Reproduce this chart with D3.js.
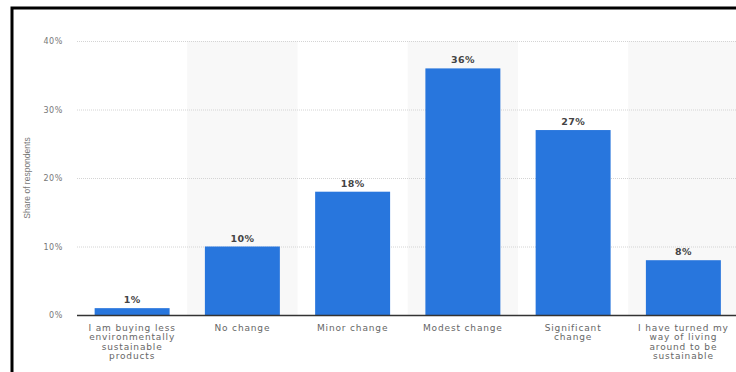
<!DOCTYPE html>
<html><head><meta charset="utf-8">
<script src="https://cdn.jsdelivr.net/npm/d3@7"></script>
<style>body{margin:0;background:#fff}svg{display:block}</style>
</head><body>
<script>
const categories = [
  "I am buying less environmentally sustainable products",
  "No change",
  "Minor change",
  "Modest change",
  "Significant change",
  "I have turned my way of living around to be sustainable"
];
const categoryLines = [
  ["I am buying less","environmentally","sustainable","products"],
  ["No change"],
  ["Minor change"],
  ["Modest change"],
  ["Significant","change"],
  ["I have turned my","way of living","around to be","sustainable"]
];
const values = [1, 10, 18, 36, 27, 8];
const yTicks = [0, 10, 20, 30, 40];
const yTitle = "Share of respondents";

const W = 736, H = 372;
const svg = d3.select("body").append("svg").attr("width", W).attr("height", H);
svg.append("rect").attr("width", W).attr("height", H).attr("fill", "#fff");

// frame
svg.append("path").attr("d", "M12,372 V8 H736").attr("fill", "none").attr("stroke", "#000").attr("stroke-width", 3);

const x = d3.scaleBand().domain(categories).range([77, 738.5]).paddingInner(0.32).paddingOuter(0.16);
const y = d3.scaleLinear().domain([0, 40]).range([315, 41]);

// alternating band shading
const step = x.step();
categories.forEach((c, i) => {
  if (i % 2 === 1) {
    svg.append("rect")
      .attr("x", x(c) - x.paddingInner() * step / 2)
      .attr("y", y(40))
      .attr("width", step)
      .attr("height", y(0) - y(40))
      .attr("fill", "#f8f8f8");
  }
});

// gridlines
svg.append("g").selectAll("line").data(yTicks.filter(d => d > 0)).join("line")
  .attr("x1", 77).attr("x2", 736)
  .attr("y1", d => y(d) + 0.5).attr("y2", d => y(d) + 0.5)
  .attr("stroke", "#d4d4d4").attr("stroke-dasharray", "1,1");

// y tick labels
const yAxis = d3.axisLeft(y).tickValues(yTicks).tickFormat(d => d + "%").tickSize(0).tickPadding(0);
const gy = svg.append("g").attr("transform", "translate(63,0)").call(yAxis);
gy.select(".domain").remove();
gy.selectAll("text").attr("font-family", "DejaVu Sans").attr("font-size", 8)
  .attr("letter-spacing", 0.6).attr("fill", "#777");

// y title
svg.append("text").attr("transform", "translate(29.5,178) rotate(-90)")
  .attr("text-anchor", "middle").attr("font-family", "Liberation Sans").attr("font-size", 8.5)
  .attr("fill", "#777").text(yTitle);

// bars
svg.append("g").selectAll("rect").data(values).join("rect")
  .attr("x", (d, i) => x(categories[i]))
  .attr("y", d => y(d))
  .attr("width", x.bandwidth())
  .attr("height", d => y(0) - y(d))
  .attr("fill", "#2876dd");

// value labels
svg.append("g").selectAll("text").data(values).join("text")
  .attr("x", (d, i) => x(categories[i]) + x.bandwidth() / 2)
  .attr("y", d => y(d) - 5)
  .attr("text-anchor", "middle").attr("font-family", "DejaVu Sans").attr("font-weight", "bold")
  .attr("font-size", 9.5).attr("letter-spacing", 0.4).attr("fill", "#444").text(d => d + "%");

// baseline axis
const xAxis = d3.axisBottom(x).tickSize(0).tickFormat("");
const gx = svg.append("g").attr("transform", "translate(0,315)").call(xAxis);
gx.select(".domain").attr("stroke", "#333").attr("stroke-width", 1.5).attr("d", "M77,0.5H736");

// category labels
categoryLines.forEach((lines, i) => {
  const t = svg.append("text").attr("text-anchor", "middle")
    .attr("font-family", "DejaVu Sans").attr("font-size", 9).attr("letter-spacing", 0.85).attr("fill", "#666");
  lines.forEach((l, j) => {
    t.append("tspan").attr("x", x(categories[i]) + x.bandwidth() / 2)
      .attr("y", 331 + j * 9.4).text(l);
  });
});
</script>
</body></html>
